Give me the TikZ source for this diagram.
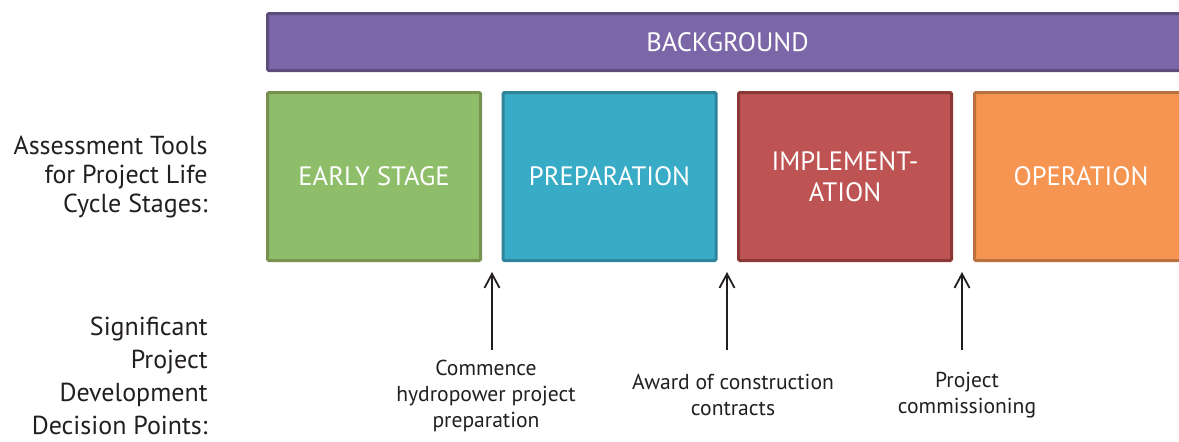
\documentclass[tikz,border=0pt]{standalone}
\usepackage{fontspec}
\setmainfont{PT Sans}
\usepackage{tikz}
\usetikzlibrary{arrows.meta}
\definecolor{bgfill}{HTML}{7B67A8}
\definecolor{bgline}{HTML}{5C4D7D}
\definecolor{esfill}{HTML}{8FBE6A}
\definecolor{esline}{HTML}{77924F}
\definecolor{prfill}{HTML}{38ACC7}
\definecolor{prline}{HTML}{2F849A}
\definecolor{imfill}{HTML}{BD5453}
\definecolor{imline}{HTML}{8C3837}
\definecolor{opfill}{HTML}{F59551}
\definecolor{opline}{HTML}{B9713E}
\definecolor{txt}{HTML}{231F20}

\begin{document}
\begin{tikzpicture}[x=0.5pt, y=-0.5pt,
    stage/.style={draw, line width=1.5pt, rounded corners=0.6pt, minimum width=106.5pt,
      minimum height=84pt, inner sep=0pt, text=white, align=center,
      font=\fontsize{13.3}{15.5}\selectfont},
    side/.style={anchor=east, align=right, text=txt, inner sep=0pt},
    point/.style={align=center, text=txt, inner sep=0pt, font=\fontsize{10.8}{13}\selectfont},
    up/.style={-{Straight Barb[length=7pt, width=7.5pt]}, line width=0.9pt, draw=txt}]
    %枠を設定する
    \useasboundingbox (0,0) rectangle (1179,441);
    \clip (0,0) rectangle (1179,441);
    %上の帯
    \node [stage, fill=bgfill, draw=bgline, minimum width=460pt, minimum height=28.5pt] (bg) at (727.5,42) {BACKGROUND};
    %各段階の箱
    \node [stage, fill=esfill, draw=esline] (early) at (374,176.5) {EARLY STAGE};
    \node [stage, fill=prfill, draw=prline] (prep) at (609.5,176.5) {PREPARATION};
    \node [stage, fill=imfill, draw=imline] (impl) at (845,176.5) {IMPLEMENT-\\ATION};
    \node [stage, fill=opfill, draw=opline] (oper) at (1081,176.5) {OPERATION};
    %左側の見出し
    \node [side, font=\fontsize{13}{14.5}\selectfont] (toolslbl) at (208,177) {Assessment Tools\\for Project Life\\Cycle Stages:};
    \node [side, font=\fontsize{13}{16.5}\selectfont] (decisionlbl) at (208,376) {Significant\\Project\\Development\\Decision Points:};
    %意思決定点と矢印
    \node [point] (commence) at (486,396) {Commence\\hydropower project\\preparation};
    \node [point] (award) at (733,395) {Award of construction\\contracts};
    \node [point] (commission) at (967,395) {Project\\commissioning};
    \coordinate (p1) at (492,350);
    \coordinate (t1) at (492,272);
    \coordinate (p2) at (727,350);
    \coordinate (t2) at (727,272);
    \coordinate (p3) at (962,350);
    \coordinate (t3) at (962,272);
    \draw [up] (p1)--(t1);
    \draw [up] (p2)--(t2);
    \draw [up] (p3)--(t3);
\end{tikzpicture}
\end{document}
